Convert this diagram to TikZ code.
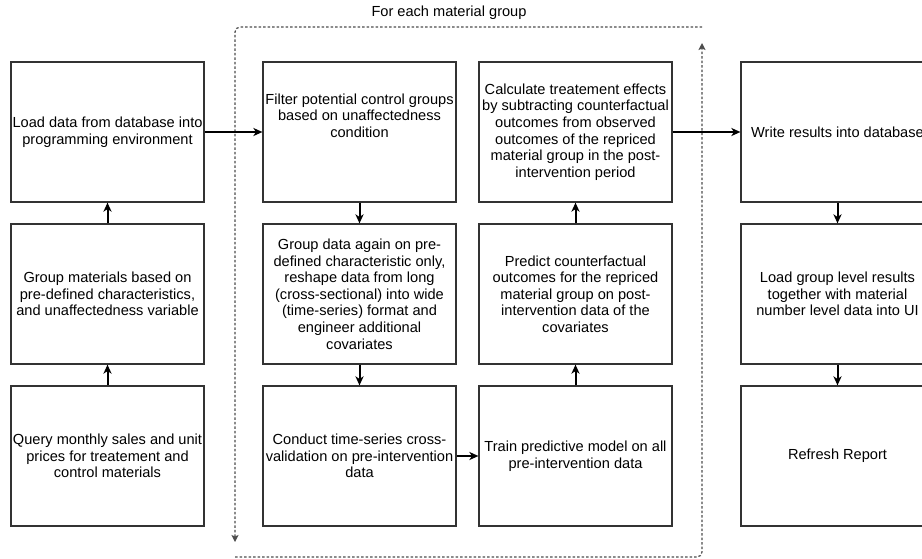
\documentclass[tikz,border=0pt]{standalone}
\usepackage{fontspec}
\setmainfont{Liberation Sans}
\usetikzlibrary{arrows.meta}
\definecolor{boxline}{HTML}{333333}
\definecolor{loopline}{HTML}{4D4D4D}
\tikzset{
  x=1pt, y=-1pt,
  stepbox/.style={draw=boxline, line width=1.2pt, rectangle, minimum width=193pt,
    minimum height=140pt, inner sep=0pt, align=center,
    font=\fontsize{14.6}{16.6}\selectfont},
  plaintext/.style={inner sep=0pt, align=center, font=\fontsize{14.6}{16.6}\selectfont},
  flow/.style={line width=2pt, -{Stealth[length=9pt,width=8pt,inset=2.5pt]}},
  loop/.style={draw=loopline, line width=1.2pt, dash pattern=on 2.5pt off 2pt,
    rounded corners=5pt, -{Stealth[length=7pt,width=7pt,inset=1.5pt]}}
}
\begin{document}
\begin{tikzpicture}
\clip (0,0) rectangle (922,558);

% column 1: preparation
\node[stepbox] (load) at (107.5,132) {Load data from database into\\programming environment};
\node[stepbox] (group) at (107.5,294) {Group materials based on\\pre-defined characteristics,\\and unaffectedness variable};
\node[stepbox] (query) at (107.5,456) {Query monthly sales and unit\\prices for treatement and\\control materials};

% column 2: per group, data shaping and validation
\node[stepbox] (filter) at (359.5,132) {};
\node[plaintext] (filtertext) at ([yshift=16.6pt]filter.center) {Filter potential control groups\\based on unaffectedness\\condition};
\node[stepbox] (reshape) at (359.5,294) {Group data again on pre-\\defined characteristic only,\\reshape data from long\\(cross-sectional) into wide\\(time-series) format and\\engineer additional\\covariates};
\node[stepbox] (cv) at (359.5,456) {Conduct time-series cross-\\validation on pre-intervention\\data};

% column 3: per group, modelling and effects
\node[stepbox] (effects) at (575.5,132) {Calculate treatement effects\\by subtracting counterfactual\\outcomes from observed\\outcomes of the repriced\\material group in the post-\\intervention period};
\node[stepbox] (predict) at (575.5,294) {Predict counterfactual\\outcomes for the repriced\\material group on post-\\intervention data of the\\covariates};
\node[stepbox] (train) at (575.5,456) {Train predictive model on all\\pre-intervention data};

% column 4: output
\node[stepbox] (write) at (837.5,132) {Write results into database};
\node[stepbox] (ui) at (837.5,294) {Load group level results\\together with material\\number level data into UI};
\node[stepbox] (refresh) at (837.5,456) {Refresh Report};

% loop around the per-group steps
\node[plaintext] (looplabel) at (449,13) {For each material group};
\coordinate (loopA1) at (702,27);
\coordinate (loopA2) at (235,27);
\coordinate (loopA3) at (235,542);
\coordinate (loopB1) at (235,557);
\coordinate (loopB2) at (702,557);
\coordinate (loopB3) at (702,43);
\draw[loop] (loopA1) -- (loopA2) -- (loopA3);
\draw[loop] (loopB1) -- (loopB2) -- (loopB3);

% flow connectors
\draw[flow] (query) -- (group);
\draw[flow] (group) -- (load);
\draw[flow] (load) -- (filter);
\draw[flow] (filter) -- (reshape);
\draw[flow] (reshape) -- (cv);
\draw[flow] (cv) -- (train);
\draw[flow] (train) -- (predict);
\draw[flow] (predict) -- (effects);
\draw[flow] (effects) -- (write);
\draw[flow] (write) -- (ui);
\draw[flow] (ui) -- (refresh);
\end{tikzpicture}
\end{document}
